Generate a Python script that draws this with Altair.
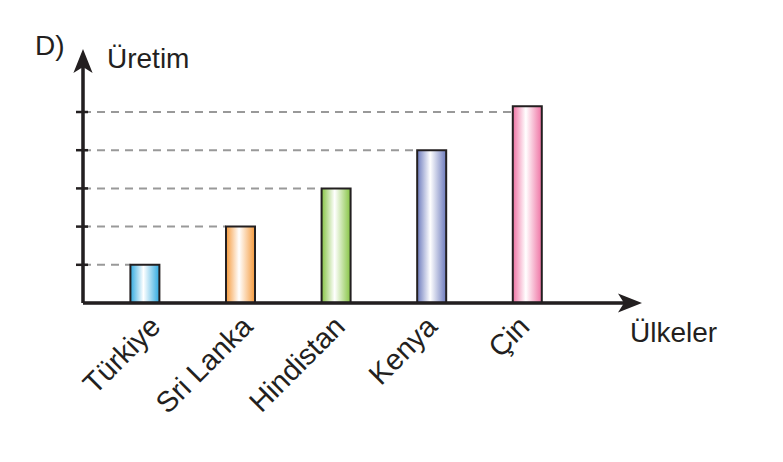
import altair as alt
import pandas as pd

countries = ["Türkiye", "Sri Lanka", "Hindistan", "Kenya", "Çin"]
values = [1, 2, 3, 4, 5.15]
levels = [1, 2, 3, 4, 5]
bar_colors = ["#2fa9e0", "#f59a3c", "#86c443", "#6c7abd", "#ef72a3"]
panel_label = ["D)"]
y_title = ["Üretim"]
x_title = ["Ülkeler"]

df = pd.DataFrame({"country": countries, "idx": list(range(len(countries))),
                   "value": values, "level": levels})

X0, X1 = -0.6475, 5.179
Y1 = 6.754
PX = 95.6  # px per x unit
HALF = 14.5 / PX
W, H = 557, 258

xs = alt.Scale(domain=[X0, X1], nice=False, zero=False)
ys = alt.Scale(domain=[0, Y1], nice=False, zero=False)
INK = "#231f20"
FONT = "Liberation Sans"

base = alt.Chart(df)

layers = []

# dashed guide lines from the axis to each bar
dashes = base.transform_calculate(
    xs0=f"{X0}", xe=f"datum.idx - {HALF}"
).mark_rule(strokeDash=[8, 6], color="#999999", strokeWidth=2).encode(
    x=alt.X("xs0:Q", scale=xs, axis=None),
    x2="xe:Q",
    y=alt.Y("level:Q", scale=ys, axis=None),
)
layers.append(dashes)

# bars with horizontal gradient
for i, c in enumerate(bar_colors):
    grad = {"gradient": "linear", "x1": 0, "x2": 1, "y1": 0, "y2": 0,
            "stops": [{"offset": 0, "color": c},
                      {"offset": 0.45, "color": "#ffffff"},
                      {"offset": 1, "color": c}]}
    b = base.transform_filter(alt.datum.idx == i).transform_calculate(
        xl=f"datum.idx - {HALF}", xr=f"datum.idx + {HALF}", y0="0"
    ).mark_bar(fill=grad, stroke=INK, strokeWidth=2).encode(
        x=alt.X("xl:Q", scale=xs, axis=None),
        x2="xr:Q",
        y=alt.Y("y0:Q", scale=ys, axis=None),
        y2="value:Q",
    )
    layers.append(b)

# axis lines
yaxis = base.transform_calculate(a=f"{X0}").mark_rule(color=INK, strokeWidth=2.5).encode(
    x=alt.X("a:Q", scale=xs, axis=None),
    y=alt.value(H), y2=alt.value(22),
)
xaxis = base.mark_rule(color=INK, strokeWidth=2.5).encode(
    x=alt.value(0), x2=alt.value(545), y=alt.value(H),
)
layers += [yaxis, xaxis]

# ticks on y axis
ticks = base.mark_rule(color=INK, strokeWidth=2.5).encode(
    x=alt.value(-7), x2=alt.value(5),
    y=alt.Y("level:Q", scale=ys, axis=None),
)
layers.append(ticks)

# arrow heads
up_arrow = "M0,-1 L0.8,1 L0,0.5 L-0.8,1 Z"
right_arrow = "M1,0 L-1,0.8 L-0.5,0 L-1,-0.8 Z"
arr_up = base.transform_filter(alt.datum.idx == 0).mark_point(
    shape=up_arrow, size=576, filled=True, color=INK, opacity=1
).encode(x=alt.value(0), y=alt.value(16))
arr_right = base.transform_filter(alt.datum.idx == 0).mark_point(
    shape=right_arrow, size=576, filled=True, color=INK, opacity=1
).encode(x=alt.value(547), y=alt.value(H))
layers += [arr_up, arr_right]

# category labels, rotated
labels = base.transform_calculate(lx="0.011 + datum.idx * 0.965").mark_text(
    angle=315, align="right", baseline="top", fontSize=29, font=FONT, color=INK
).encode(
    x=alt.X("lx:Q", scale=xs, axis=None),
    y=alt.value(H + 9),
    text="country:N",
)
layers.append(labels)

def title_text(txt, x, y):
    return alt.Chart(pd.DataFrame({"t": txt})).mark_text(
        align="left", baseline="alphabetic", fontSize=28, font=FONT, color=INK
    ).encode(x=alt.value(x), y=alt.value(y), text="t:N")

layers.append(title_text(panel_label, -48, 10))
layers.append(title_text(y_title, 24, 23))
layers.append(title_text(x_title, 547, 297))

chart = alt.layer(*layers).properties(
    width=W, height=H,
    autosize=alt.AutoSizeParams(type="none"),
    padding={"left": 75, "top": 37, "right": 135, "bottom": 151},
    background="white",
).configure_view(stroke=None)

chart.save("out.html", embed_options={"renderer": "svg", "actions": False})
